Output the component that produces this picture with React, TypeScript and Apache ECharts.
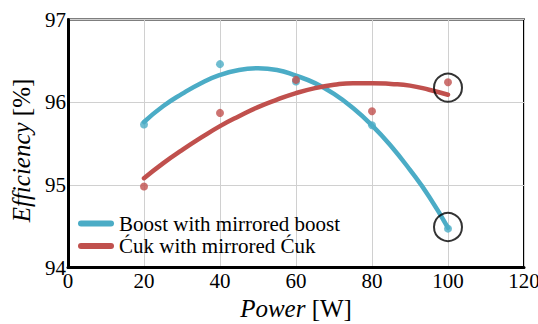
import React, { useEffect, useRef } from "react";
import * as echarts from "echarts";

// Measured efficiency at each output power
const powerW = [20, 40, 60, 80, 100];
const boostMeasured = [95.73, 96.46, 96.25, 95.72, 94.47];
const cukMeasured = [94.98, 95.87, 96.27, 95.89, 96.24];

// Fitted trend curves
const fitPowerW = [20, 25, 30, 35, 40, 45, 50, 55, 60, 65, 70, 75, 80, 85, 90, 95, 100];
const boostFit = [95.76, 95.95, 96.1, 96.23, 96.33, 96.39, 96.41, 96.39, 96.32, 96.23, 96.1, 95.93, 95.72, 95.47, 95.18, 94.86, 94.48];
const cukFit = [95.08, 95.26, 95.42, 95.57, 95.71, 95.83, 95.94, 96.03, 96.11, 96.17, 96.21, 96.23, 96.23, 96.22, 96.2, 96.15, 96.09];

// Points marked with a ring at full load
const highlighted = [
  [100, 96.175],
  [100, 94.49],
];

const BOOST_NAME = "Boost with mirrored boost";
const CUK_NAME = "\u0106uk with mirrored \u0106uk";
const BLUE = "#4BACC6";
const RED = "#C0504D";
const FONT = "Liberation Serif";

const pair = (xs: number[], ys: number[]) => xs.map((x, i) => [x, ys[i]]);

export default function App() {
  const ref = useRef<HTMLDivElement>(null);

  useEffect(() => {
    if (!ref.current) return;
    const chart = echarts.init(ref.current, undefined, { renderer: "svg" });
    chart.setOption({
      animation: false,
      textStyle: { fontFamily: FONT, color: "#000" },
      grid: {
        left: 68,
        right: 14,
        top: 19.5,
        bottom: 56.5,
        containLabel: false,
        outerBoundsMode: "none",
        show: true,
        borderColor: "#000",
        borderWidth: 2,
      },
      legend: {
        orient: "vertical",
        left: 73,
        top: 208,
        itemGap: 1.5,
        itemWidth: 36,
        itemHeight: 6,
        icon: "path://M3,0 H33 A3,3 0 0 1 33,6 H3 A3,3 0 0 1 3,0 Z",
        data: [BOOST_NAME, CUK_NAME],
        textStyle: { fontFamily: FONT, fontSize: 21, color: "#000", lineHeight: 21 },
      },
      xAxis: {
        type: "value",
        min: 0,
        max: 120,
        interval: 20,
        name: "{i|Power} [W]",
        nameLocation: "middle",
        nameGap: 28,
        nameTextStyle: {
          fontFamily: FONT,
          fontSize: 25,
          color: "#000",
          rich: { i: { fontStyle: "italic", fontFamily: FONT, fontSize: 25, color: "#000" } },
        },
        axisLine: { show: true, lineStyle: { color: "#000", width: 3 } },
        axisTick: { show: false },
        axisLabel: { fontFamily: FONT, fontSize: 21, color: "#000", margin: 3 },
        splitLine: { show: true, lineStyle: { color: "#d0d0d0", width: 1 } },
      },
      yAxis: {
        type: "value",
        min: 94,
        max: 97,
        interval: 1,
        // trailing spacer nudges the rotated title slightly downward
        name: "{i|Efficiency} [%]{s|}",
        nameLocation: "middle",
        nameGap: 28,
        nameTextStyle: {
          fontFamily: FONT,
          fontSize: 25,
          color: "#000",
          rich: {
            i: { fontStyle: "italic", fontFamily: FONT, fontSize: 25, color: "#000" },
            s: { width: 14, fontSize: 25 },
          },
        },
        axisLine: { show: true, lineStyle: { color: "#000", width: 3 } },
        axisTick: { show: false },
        axisLabel: { fontFamily: FONT, fontSize: 21, color: "#000", margin: 2 },
        splitLine: { show: true, lineStyle: { color: "#d0d0d0", width: 1 } },
      },
      series: [
        {
          name: BOOST_NAME,
          type: "line",
          data: pair(fitPowerW, boostFit),
          smooth: true,
          symbol: "none",
          lineStyle: { color: BLUE, width: 4.5, cap: "round" },
          itemStyle: { color: BLUE },
          z: 2,
        },
        {
          name: CUK_NAME,
          type: "line",
          data: pair(fitPowerW, cukFit),
          smooth: true,
          symbol: "none",
          lineStyle: { color: RED, width: 4.5, cap: "round" },
          itemStyle: { color: RED },
          z: 2,
        },
        {
          name: "boost-measured",
          type: "scatter",
          data: pair(powerW, boostMeasured),
          symbolSize: 8,
          itemStyle: { color: BLUE },
          z: 3,
        },
        {
          name: "cuk-measured",
          type: "scatter",
          data: pair(powerW, cukMeasured),
          symbolSize: 8,
          itemStyle: { color: RED },
          z: 3,
        },
        {
          name: "highlight",
          type: "scatter",
          data: highlighted,
          symbolSize: 28,
          itemStyle: { color: "rgba(0,0,0,0)", borderColor: "#000", borderWidth: 2 },
          z: 4,
        },
      ],
    });
    return () => chart.dispose();
  }, []);

  return (
    <div
      ref={ref}
      style={{ position: "fixed", left: 0, top: 0, width: 538, height: 324, background: "#fff" }}
    />
  );
}
